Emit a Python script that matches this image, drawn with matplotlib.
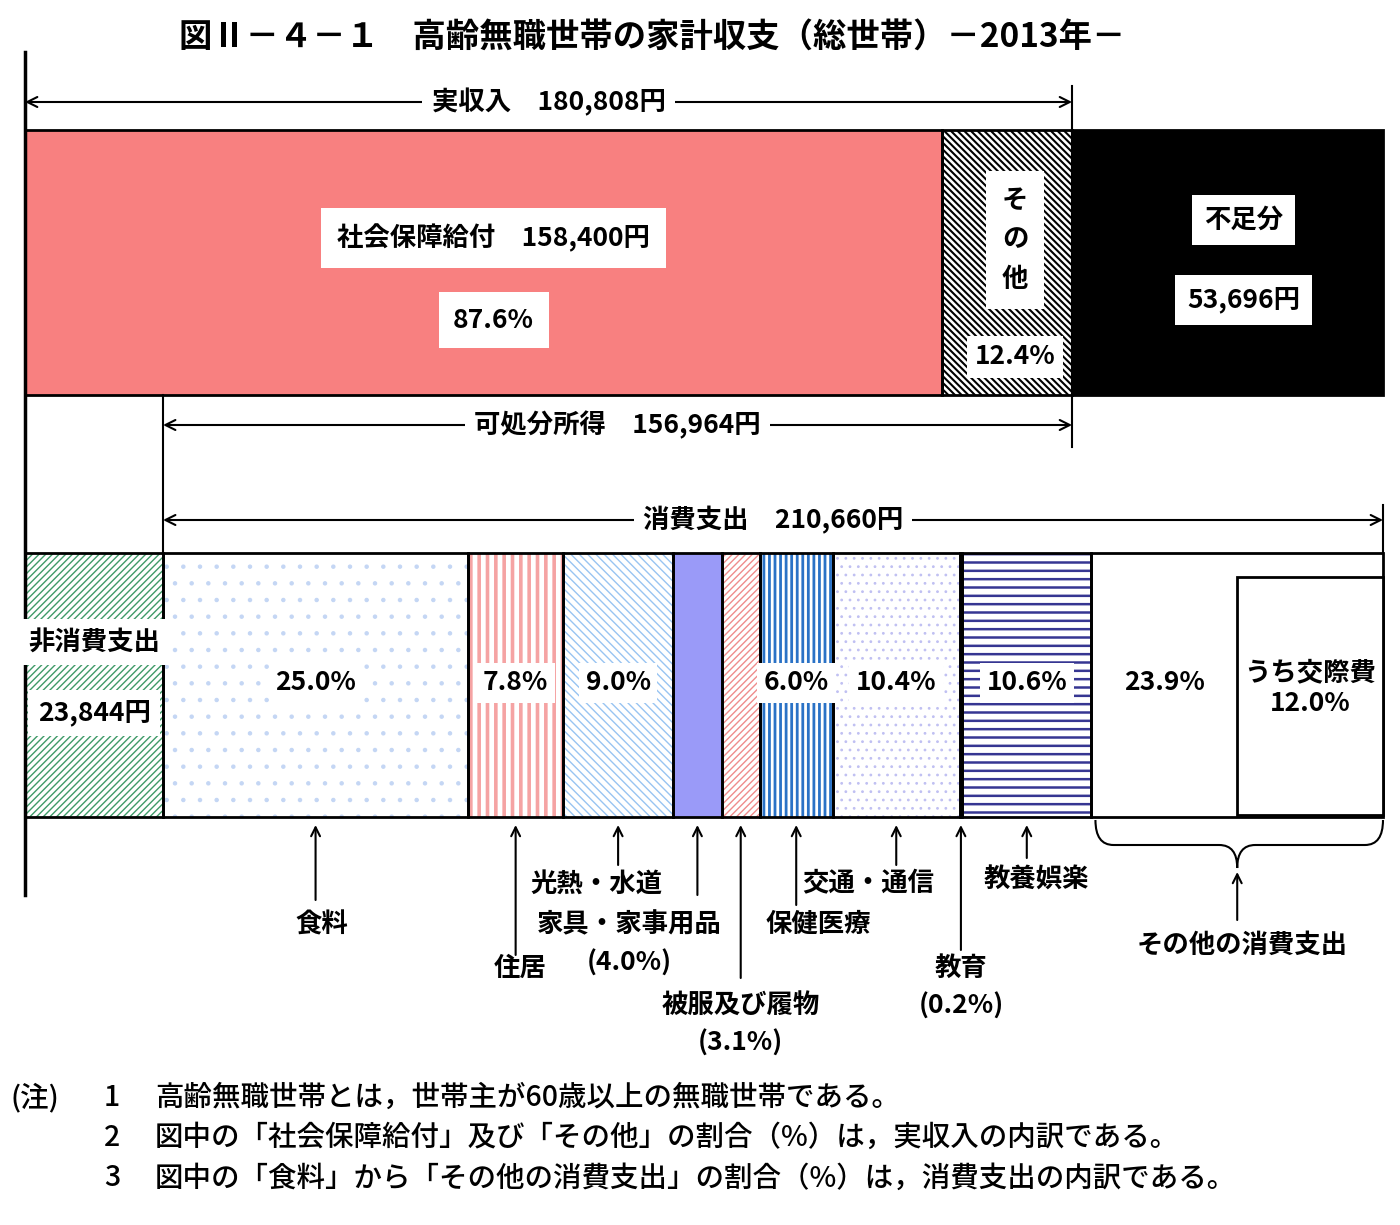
import matplotlib
matplotlib.use("Agg")
import matplotlib.pyplot as plt
from matplotlib.patches import Rectangle, PathPatch
from matplotlib.path import Path

plt.rcParams['font.family'] = ['Noto Sans CJK JP', 'DejaVu Sans']

# ---------------- data ----------------
title = "図Ⅱ－４－１　高齢無職世帯の家計収支（総世帯）－2013年－"
actual_income = 180808          # 実収入
social_security = 158400        # 社会保障給付
social_share = 87.6
other_income_share = 12.4
deficit = 53696                 # 不足分
non_consumption = 23844         # 非消費支出
disposable_income = 156964      # 可処分所得
consumption = 210660            # 消費支出
exp_labels = ["食料", "住居", "光熱・水道", "家具・家事用品", "被服及び履物",
              "保健医療", "交通・通信", "教育", "教養娯楽", "その他の消費支出"]
exp_shares = [25.0, 7.8, 9.0, 4.0, 3.1, 6.0, 10.4, 0.2, 10.6, 23.9]
social_exp_share = 12.0         # うち交際費
notes = ["高齢無職世帯とは，世帯主が60歳以上の無職世帯である。",
         "図中の「社会保障給付」及び「その他」の割合（%）は，実収入の内訳である。",
         "図中の「食料」から「その他の消費支出」の割合（%）は，消費支出の内訳である。"]

# ---------------- styles ----------------
seg_styles = [  # face, hatch, hatch colour, hatch lw
    ("white", ".", "#c4d6f4", 0.8),
    ("white", "||", "#f5a3a3", 2.6),
    ("white", "\\\\\\\\", "#98c4f2", 1.0),
    ("#9a9af8", None, None, 0),
    ("white", "/////", "#ef8c8c", 1.0),
    ("white", "|||", "#2a72c6", 2.0),
    ("white", "..", "#c0c0f2", 0.8),
    ("white", None, None, 0),
    ("white", "--", "#363692", 1.8),
    ("white", None, None, 0),
]
# arrow tail y, label y, label x offset (px), extra line
ann_layout = [
    (900, 925, 6, None),
    (955, 968, 4, None),
    (865, 884, -22, None),
    (895, 925, -68, "(4.0%)"),
    (978, 1005, 0, "(3.1%)"),
    (905, 925, 22, None),
    (865, 884, -28, None),
    (950, 968, 0, "(0.2%)"),
    (858, 880, 10, None),
    (920, 945, 5, None),
]

W, H = 1400, 1225
fig = plt.figure(figsize=(14, 12.25), dpi=100)
ax = fig.add_axes([0, 0, 1, 1])
total = actual_income + deficit
s = 1358.0 / total              # px per yen
x0 = -25.0 / s
ax.set_xlim(x0, x0 + W / s)
ax.set_ylim(H, 0)
ax.axis("off")

def px(p):
    return x0 + p / s

FS = 19
LW = 2.0

def hatched(xl, w, y, h, face, hatch, hcol, hlw, z=2):
    p = Rectangle((xl, y), w, h, facecolor=face, edgecolor=(hcol or face),
                  hatch=hatch, lw=0, zorder=z)
    if hatch:
        try:
            p.set_hatch_linewidth(hlw)
        except AttributeError:
            plt.rcParams['hatch.linewidth'] = hlw
    ax.add_patch(p)
    ax.add_patch(Rectangle((xl, y), w, h, fill=False, edgecolor="black",
                           lw=LW, zorder=z + 1))

def label(x, y, t, fs=FS, box=True, pad=0.3, **kw):
    bb = dict(boxstyle=f"square,pad={pad}", fc="white", ec="none") if box else None
    ax.text(x, y, t, fontsize=fs, fontweight="bold", ha="center", va="center",
            bbox=bb, zorder=10, **kw)

# ---------------- title ----------------
ax.text(px(652), 38, title, fontsize=24, fontweight="bold", ha="center", va="center")

# ---------------- top bar ----------------
TY, TH = 130, 265
other_income = actual_income - social_security
hatched(0, social_security, TY, TH, "#f88080", None, None, 0)
hatched(social_security, other_income, TY, TH, "white", "\\\\\\\\\\", "black", 1.5)
hatched(actual_income, deficit, TY, TH, "black", None, None, 0)

label(social_security / 2 + 10 / s, 238,
      f"社会保障給付　{social_security:,}円", pad=0.6)
label(social_security / 2 + 10 / s, 320, f"{social_share}%", pad=0.55)
cx = social_security + other_income / 2 + 8 / s
label(cx, 240, "そ\nの\n他", linespacing=1.6, pad=0.6)
label(cx, 357, f"{other_income_share}%", pad=0.3)
dx = actual_income + deficit / 2 + 16 / s
label(dx, 220, "不足分", pad=0.45)
label(dx, 300, f"{deficit:,}円", pad=0.45)

# ---------------- bottom bar ----------------
BY, BH = 553, 264
hatched(0, non_consumption, BY, BH, "white", "/////", "#3f9a68", 1.0)
label(non_consumption / 2, 642, "非消費支出", pad=0.35)
label(non_consumption / 2, 713, f"{non_consumption:,}円", pad=0.35)

xs = non_consumption
centers = []
for share, (face, hatch, hcol, hlw) in zip(exp_shares, seg_styles):
    w = consumption * share / 100
    hatched(xs, w, BY, BH, face, hatch, hcol, hlw)
    centers.append(xs + w / 2)
    xs += w

# inner box うち交際費
sw = consumption * social_exp_share / 100
ax.add_patch(Rectangle((total - sw, 577), sw, 238, facecolor="white",
                       edgecolor="black", lw=LW, zorder=4))
label(total - sw / 2, 688, f"うち交際費\n{social_exp_share}%", box=False, linespacing=1.2)

other_start = total - consumption * exp_shares[-1] / 100
pct_pos = {0: centers[0], 1: centers[1], 2: centers[2], 5: centers[5],
           6: centers[6], 8: centers[8], 9: (other_start + total - sw) / 2}
for i, xc in pct_pos.items():
    label(xc, 683, f"{exp_shares[i]}%", box=(i not in (9,)), pad=0.25)

# ---------------- guide lines & dimension arrows ----------------
ax.plot([0, 0], [52, 895], color="black", lw=2.5, zorder=6)
ax.plot([actual_income] * 2, [86, 447], color="black", lw=1.5, zorder=6)
ax.plot([non_consumption] * 2, [395, 553], color="black", lw=1.5, zorder=6)
ax.plot([total] * 2, [505, 553], color="black", lw=1.5, zorder=6)

def dim(xa, xb, y, text):
    ax.annotate("", xy=(xb, y), xytext=(xa, y),
                arrowprops=dict(arrowstyle="<->", lw=1.5, color="black",
                                shrinkA=0, shrinkB=0, mutation_scale=18), zorder=7)
    label((xa + xb) / 2, y, text, pad=0.35)

dim(0, actual_income, 102, f"実収入　{actual_income:,}円")
dim(non_consumption, actual_income, 425, f"可処分所得　{disposable_income:,}円")
dim(non_consumption, total, 520, f"消費支出　{consumption:,}円")

# ---------------- category annotations ----------------
for i, (name, (tail, ly, ldx, extra)) in enumerate(zip(exp_labels, ann_layout)):
    if i == 9:
        continue
    xc = centers[i]
    ax.annotate("", xy=(xc, 825), xytext=(xc, tail),
                arrowprops=dict(arrowstyle="->", lw=1.5, color="black",
                                shrinkA=0, shrinkB=0, mutation_scale=16))
    lx = xc + ldx / s
    label(lx, ly, name, box=False)
    if extra:
        label(lx, ly + 38, extra, box=False)

# brace for その他の消費支出
r = 18 / s
xa, xb = other_start + 4 / s, total
xm = (other_start + total) / 2
y0, y1, y2 = 820, 845, 868
verts = [(xa, y0), (xa, y1), (xa + r, y1), (xm - r, y1), (xm, y1), (xm, y2),
         (xm, y1), (xm + r, y1), (xb - r, y1), (xb, y1), (xb, y0)]
codes = [Path.MOVETO, Path.CURVE3, Path.CURVE3, Path.LINETO, Path.CURVE3, Path.CURVE3,
         Path.CURVE3, Path.CURVE3, Path.LINETO, Path.CURVE3, Path.CURVE3]
ax.add_patch(PathPatch(Path(verts, codes), fill=False, lw=1.5, edgecolor="black"))
tail, ly, ldx, _ = ann_layout[9]
ax.annotate("", xy=(xm, 872), xytext=(xm, tail),
            arrowprops=dict(arrowstyle="->", lw=1.5, color="black",
                            shrinkA=0, shrinkB=0, mutation_scale=16))
label(xm + ldx / s, ly, exp_labels[9], box=False)

# ---------------- notes ----------------
NFS = 20.5
ax.text(px(10), 1097, "(注)", fontsize=NFS, ha="left", va="center", fontweight="medium")
for k, n in enumerate(notes):
    y = 1097 + k * 40.5
    ax.text(px(104), y, str(k + 1), fontsize=NFS, ha="left", va="center", fontweight="medium")
    ax.text(px(155), y, n, fontsize=NFS, ha="left", va="center", fontweight="medium")

fig.savefig("out.png", dpi=100, facecolor="white")
